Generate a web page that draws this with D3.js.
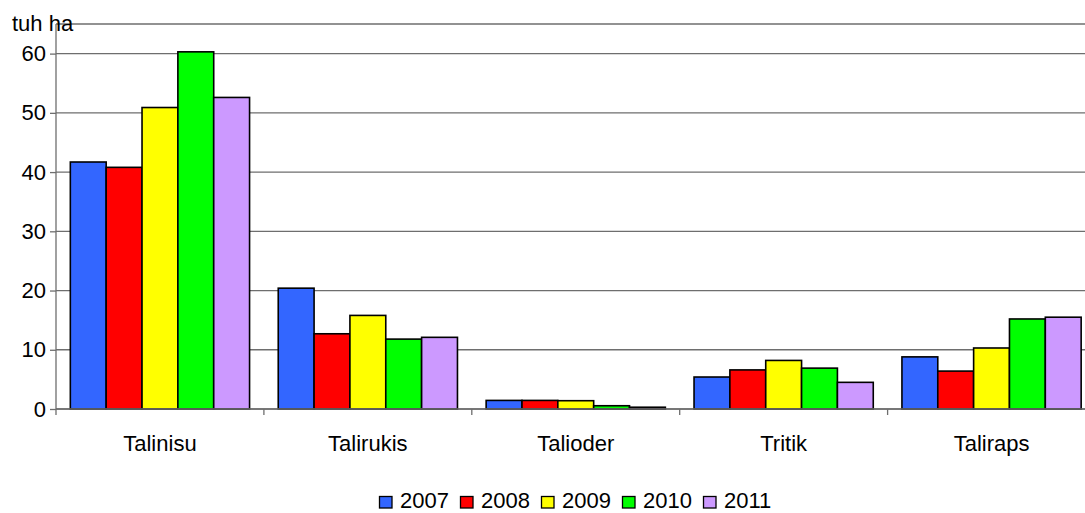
<!DOCTYPE html>
<html>
<head>
<meta charset="utf-8">
<script src="https://cdn.jsdelivr.net/npm/d3@7"></script>
<style>
  html, body { margin: 0; padding: 0; background: #fff; }
  svg { display: block; font-family: "Liberation Sans", Arial, sans-serif; }
</style>
</head>
<body>
<svg id="chart" width="1085" height="513"></svg>
<script>
const categories = ["Talinisu", "Talirukis", "Talioder", "Tritik", "Taliraps"];
const years = ["2007", "2008", "2009", "2010", "2011"];
const s2007 = [41.7, 20.4, 1.45, 5.4, 8.8];
const s2008 = [40.8, 12.7, 1.45, 6.6, 6.4];
const s2009 = [50.9, 15.8, 1.4, 8.2, 10.3];
const s2010 = [60.3, 11.8, 0.55, 6.9, 15.2];
const s2011 = [52.6, 12.1, 0.3, 4.5, 15.5];
const yTicks = [0, 10, 20, 30, 40, 50, 60];
const yMax = 65;
const unitLabel = "tuh ha";
const colors = ["#3366FF", "#FF0000", "#FFFF00", "#00FF00", "#CC99FF"];

const series = [s2007, s2008, s2009, s2010, s2011];
const FS = 22;

const svg = d3.select("#chart");
const pLeft = 56, pRight = 1095.5, pTop = 24, pBottom = 409;

const x = d3.scaleBand().domain(categories).range([pLeft, pRight]).paddingInner(0).paddingOuter(0);
const inner = d3.scaleBand().domain(years).range([0, x.bandwidth()]).paddingInner(0).paddingOuter(0.4);
const y = d3.scaleLinear().domain([0, yMax]).range([pBottom, pTop]);

// gridlines
svg.append("g").selectAll("line").data(yTicks.concat([yMax])).join("line")
  .attr("x1", pLeft).attr("x2", pRight)
  .attr("y1", d => y(d)).attr("y2", d => y(d))
  .attr("stroke", "#6e6e6e").attr("stroke-width", 1.3);

// bars
const g = svg.append("g");
categories.forEach((c, ci) => {
  years.forEach((yr, si) => {
    const v = series[si][ci];
    g.append("rect")
      .attr("x", x(c) + inner(yr))
      .attr("y", y(v))
      .attr("width", inner.bandwidth())
      .attr("height", y(0) - y(v))
      .attr("fill", colors[si])
      .attr("stroke", "#000")
      .attr("stroke-width", 1.6);
  });
});

// y axis
const yAxis = d3.axisLeft(y).tickValues(yTicks).tickSize(6).tickPadding(4).tickFormat(d3.format("d"));
const ya = svg.append("g").attr("transform", `translate(${pLeft},0)`).call(yAxis);
ya.select(".domain").remove();
ya.selectAll(".tick line").attr("stroke", "#6e6e6e").attr("stroke-width", 1.3);
ya.selectAll(".tick text").attr("font-size", FS).attr("fill", "#000")
  .attr("font-family", "'Liberation Sans', Arial, sans-serif");
svg.append("line").attr("x1", pLeft).attr("x2", pLeft).attr("y1", pTop).attr("y2", pBottom)
  .attr("stroke", "#6e6e6e").attr("stroke-width", 1.3);

// x axis
svg.append("line").attr("x1", pLeft).attr("x2", pRight).attr("y1", pBottom).attr("y2", pBottom)
  .attr("stroke", "#6e6e6e").attr("stroke-width", 1.3);
const bounds = categories.map(c => x(c)).concat([pRight]);
svg.append("g").selectAll("line").data(bounds).join("line")
  .attr("x1", d => d).attr("x2", d => d).attr("y1", pBottom).attr("y2", pBottom + 6)
  .attr("stroke", "#6e6e6e").attr("stroke-width", 1.3);
svg.append("g").selectAll("text").data(categories).join("text")
  .attr("x", d => x(d) + x.bandwidth() / 2)
  .attr("y", 451)
  .attr("text-anchor", "middle")
  .attr("font-size", FS)
  .text(d => d);

// unit label
svg.append("text").attr("x", 12).attr("y", 31).attr("font-size", FS).text(unitLabel);

// legend
const legX = 379.5, legStep = 81, legBase = 508;
const leg = svg.append("g");
years.forEach((yr, i) => {
  const lx = legX + i * legStep;
  leg.append("rect").attr("x", lx).attr("y", legBase - 11.5).attr("width", 12.5).attr("height", 11.5)
    .attr("fill", colors[i]).attr("stroke", "#000").attr("stroke-width", 1.3);
  leg.append("text").attr("x", lx + 20.5).attr("y", legBase).attr("font-size", FS).text(yr);
});
</script>
</body>
</html>
